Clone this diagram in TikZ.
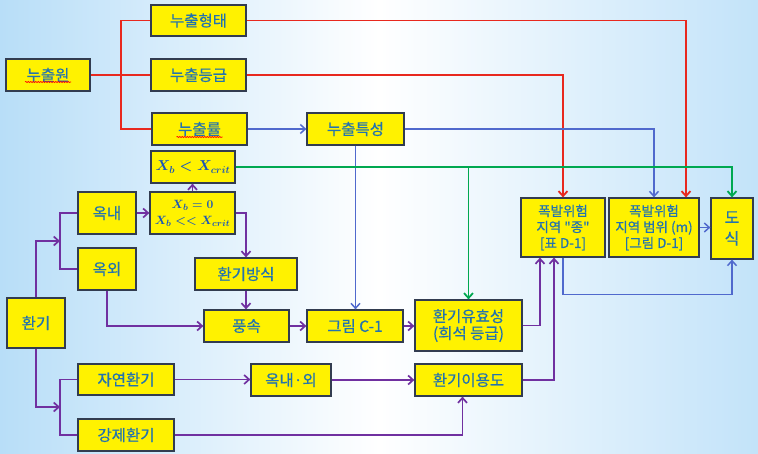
\documentclass[tikz,border=0pt]{standalone}
\usepackage{amsmath}
\usepackage{fontspec}
\usepackage{xcolor}
\usepackage{tikz}
\usetikzlibrary{arrows.meta,decorations.pathmorphing}

\newfontfamily\krfont[FakeBold=0.6]{Noto Sans CJK KR}

\definecolor{boxtext}{RGB}{35,115,175}
\definecolor{mathtext}{RGB}{25,85,185}
\definecolor{boxedge}{RGB}{50,60,80}
\definecolor{leakred}{RGB}{232,40,30}
\definecolor{flowblue}{RGB}{80,105,205}
\definecolor{critgreen}{RGB}{0,168,80}
\definecolor{ventpurple}{RGB}{112,48,160}
\definecolor{bgblue}{RGB}{184,222,248}

\begin{document}
\begin{tikzpicture}[x=1pt, y=-1pt,
    box/.style={draw=boxedge, line width=1.2pt, fill=yellow, text=boxtext, inner sep=0pt, align=center,
        font=\krfont\fontsize{15.5}{17}\selectfont},
    smallbox/.style={box, font=\krfont\fontsize{13.5}{16}\selectfont},
    mathbox/.style={box, text=mathtext, font=\fontsize{14}{17}\selectfont\mathversion{bold}},
    smallmathbox/.style={box, text=mathtext, font=\fontsize{12.5}{16}\selectfont\mathversion{bold}},
    leak/.style={leakred, line width=1.8pt},
    flow/.style={flowblue, line width=1.5pt},
    crit/.style={critgreen, line width=1.8pt},
    vent/.style={ventpurple, line width=1.7pt},
    arr/.style={-{Straight Barb[length=5pt,width=9pt]}},
    squiggle/.style={red, line width=0.6pt, decorate, decoration={snake, amplitude=0.6pt, segment length=2.5pt}}]
    % Background - light blue wash
    \shade[left color=bgblue, right color=bgblue!85, middle color=white] (0,0) rectangle (758,453);
    \useasboundingbox (0,0) rectangle (758,453);

    % Leak source and its attributes
    \node[box, minimum width=84, minimum height=32] (won) at (48,75) {누출원};
    \node[box, minimum width=95, minimum height=31] (hyeongtae) at (198.5,20.5) {누출형태};
    \node[box, minimum width=95, minimum height=32] (deunggeup) at (198.5,75) {누출등급};
    \node[box, minimum width=95, minimum height=32] (nyul) at (199.5,129) {누출률};
    \node[box, minimum width=97, minimum height=32] (teukseong) at (355.5,129) {누출특성};
    \draw[squiggle] (won.center) ++(-23,7) -- ++(46,0);
    \draw[squiggle] (nyul.center) ++(-23,8) -- ++(46,0);

    % Concentration criteria
    \node[mathbox, minimum width=84, minimum height=32] (xcrit) at (193,167) {$X_b < X_{crit}$};
    \node[smallmathbox, minimum width=85, minimum height=42] (xzero) at (192.5,213) {$X_b = 0$\\$X_b << X_{crit}$};

    % Ventilation branch
    \node[box, minimum width=58, minimum height=50] (hwangi) at (36,323) {환기};
    \node[box, minimum width=58, minimum height=42] (oknae) at (107,213) {옥내};
    \node[box, minimum width=58, minimum height=42] (okoe) at (107,269) {옥외};
    \node[box, minimum width=102, minimum height=32] (bangsik) at (246,274) {환기방식};
    \node[box, minimum width=85, minimum height=32] (pungsok) at (246.5,326) {풍속};
    \node[box, minimum width=96, minimum height=32] (grimc) at (355,326) {그림 C-1};
    \node[box, minimum width=107, minimum height=51] (yuhyo) at (468.5,325.5) {환기유효성\\(희석 등급)};
    \node[box, minimum width=96, minimum height=31] (jayeon) at (126,379.5) {자연환기};
    \node[box, minimum width=80, minimum height=32] (naeoe) at (291,380) {옥내·외};
    \node[box, minimum width=107, minimum height=32] (iyong) at (468.5,380) {환기이용도};
    \node[box, minimum width=96, minimum height=32] (gangje) at (126,435) {강제환기};

    % Results
    \node[smallbox, minimum width=84, minimum height=59] (jong) at (563,227.5) {폭발위험\\지역 "종"\\{}[표 D-1]};
    \node[smallbox, minimum width=90, minimum height=59] (beomwi) at (654,227.5) {폭발위험\\지역 범위 (m)\\{}[그림 D-1]};
    \node[box, minimum width=42, minimum height=61, font=\krfont\fontsize{16}{21}\selectfont] (dosik) at (732,228.5) {도\\식};

    % Red connectors
    \coordinate (rsplit) at (121,75);
    \draw[leak] (won) -- (deunggeup);
    \draw[leak] (hyeongtae.west) -| (rsplit) |- (nyul.west);
    \draw[leak, arr] (hyeongtae.east) -| ([xshift=32]beomwi.north);
    \draw[leak, arr] (deunggeup.east) -| (jong.north);

    % Blue connectors
    \draw[flow, arr] (nyul) -- (teukseong);
    \draw[flow, arr] (teukseong.east) -| (beomwi.north);
    \draw[flow, arr] (teukseong.south) -- (teukseong.south |- grimc.north);
    \draw[flow, arr] (beomwi.east) -- (beomwi.east -| dosik.west);
    \draw[flow, arr] (jong.south) -- ++(0,37) -| (dosik.south);

    % Green connectors
    \draw[crit, arr] (xcrit.east) -| (dosik.north);
    \draw[crit, arr] (xcrit.east -| yuhyo.north) -- (yuhyo.north);

    % Purple connectors
    \coordinate (insplit) at (60,241);
    \coordinate (typesplit) at (60,407);
    \draw[vent, arr] (hwangi.north) |- (insplit);
    \draw[vent] (oknae.west) -| (insplit) |- (okoe.west);
    \draw[vent, arr] (hwangi.south) |- (typesplit);
    \draw[vent] (jayeon.west) -| (typesplit) |- (gangje.west);
    \draw[vent, arr] (oknae) -- (xzero);
    \draw[vent, arr] (xzero.north) -- (xzero.north |- xcrit.south);
    \draw[vent, arr] (xzero.east) -| (bangsik.north);
    \draw[vent, arr] (bangsik.south) -- (bangsik.south |- pungsok.north);
    \draw[vent, arr] (okoe.south) |- (pungsok.west);
    \draw[vent, arr] (pungsok) -- (grimc);
    \draw[vent, arr] (grimc.east) -- (grimc.east -| yuhyo.west);
    \draw[vent, arr] (yuhyo.east) -| ([xshift=-23]jong.south);
    \draw[vent, arr] (jayeon.east) -- (jayeon.east -| naeoe.west);
    \draw[vent, arr] (naeoe) -- (iyong);
    \draw[vent, arr] (iyong.east) -| ([xshift=-9]jong.south);
    \draw[vent, arr] (gangje.east) -| ([xshift=-6]iyong.south);
\end{tikzpicture}
\end{document}
